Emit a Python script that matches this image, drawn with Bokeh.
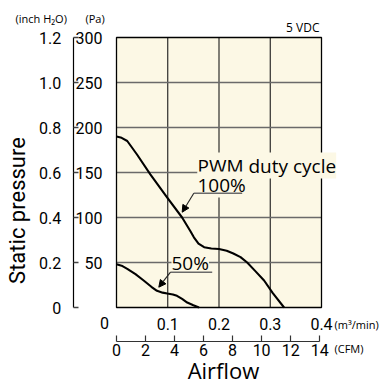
import math
from bokeh.plotting import figure
from bokeh.models import (LinearAxis, Range1d, FixedTicker, Label, Arrow,
                          NormalHead, NumeralTickFormatter)
from bokeh.embed import file_html
from bokeh.resources import INLINE

# ---- data ----
flow_100 = [0.0, 0.010, 0.021, 0.040, 0.066, 0.099, 0.128, 0.144, 0.151, 0.160,
            0.171, 0.185, 0.200, 0.215, 0.228, 0.242, 0.255, 0.270, 0.288, 0.305, 0.327]
pres_100 = [190, 188.5, 185, 170, 148, 122, 100, 85, 78, 71,
            67, 65.5, 65, 63, 60, 56, 50, 41, 30, 16, 0]

flow_50 = [0.0, 0.010, 0.021, 0.037, 0.053, 0.068, 0.079, 0.090, 0.099, 0.110,
           0.118, 0.128, 0.138, 0.150, 0.161]
pres_50 = [48, 46.5, 43, 37, 30, 23, 18.5, 16.5, 15.5, 14.5,
           13, 9.5, 5.5, 2.5, 0]

pa_ticks = [50, 100, 150, 200, 250, 300]
inch_ticks = [0, 0.2, 0.4, 0.6, 0.8, 1.0, 1.2]
m3_ticks = [0.1, 0.2, 0.3, 0.4]
cfm_ticks = [0, 2, 4, 6, 8, 10, 12, 14]
x_grid = [0.1, 0.2, 0.3]
y_grid = [50, 100, 150, 200, 250]

CFM_PER_M3MIN = 35.315
INCH_PER_PA = 1.2 / 300

# ---- layout (pixels on the page) ----
W, H = 389, 385
BOX_L, BOX_R, BOX_T, BOX_B = 116, 321, 37, 307
X_MAX = max(m3_ticks)
Y_MAX = max(pa_ticks)
xpp = X_MAX / (BOX_R - BOX_L)
ypp = Y_MAX / (BOX_B - BOX_T)
x0 = -BOX_L * xpp
x1 = x0 + W * xpp
y1 = BOX_B * ypp
y0 = y1 - H * ypp


def X(px):
    return (px - BOX_L) * xpp


def Y(py):
    return (BOX_B - py) * ypp


CREAM = "#fcf8e5"
TICKF = "Roboto"
SANS = "Open Sans"

p = figure(width=W, height=H, x_range=Range1d(x0, x1), y_range=Range1d(y0, y1),
           output_backend="svg", toolbar_location=None, title=None,
           x_axis_type=None, y_axis_type=None, min_border=0)
p.background_fill_color = "white"
p.border_fill_color = "white"
p.outline_line_color = None

p.extra_y_ranges = {"inch": Range1d(y0 * INCH_PER_PA, y1 * INCH_PER_PA)}
p.extra_x_ranges = {"cfm": Range1d(x0 * CFM_PER_M3MIN, x1 * CFM_PER_M3MIN)}

# plot box and grid
p.quad(left=0, right=X_MAX, bottom=0, top=Y_MAX, fill_color=CREAM, line_color=None)
p.segment(x0=x_grid, y0=[0] * len(x_grid), x1=x_grid, y1=[Y_MAX] * len(x_grid),
          line_color="#1a1a1a", line_width=1.1)
p.segment(x0=[0] * len(y_grid), y0=y_grid, x1=[X_MAX] * len(y_grid), y1=y_grid,
          line_color="#6a6a6a", line_width=1.4)
p.quad(left=0, right=X_MAX, bottom=0, top=Y_MAX, fill_color=None,
       line_color="black", line_width=1.3)


def style_labels(ax, standoff):
    ax.major_label_standoff = standoff
    ax.major_label_text_font = TICKF
    ax.major_label_text_font_size = "16px"
    ax.major_label_text_color = "black"
    ax.minor_tick_line_color = None


# Pa axis
ax_pa = LinearAxis(ticker=FixedTicker(ticks=pa_ticks), fixed_location=0)
ax_pa.axis_line_color = None
ax_pa.major_tick_line_color = None
style_labels(ax_pa, 8)
p.add_layout(ax_pa, "left")

# inch H2O axis
ax_in = LinearAxis(y_range_name="inch", ticker=FixedTicker(ticks=inch_ticks),
                   formatter=NumeralTickFormatter(format="0.0"),
                   fixed_location=X(72.7))
ax_in.bounds = (0, 1.2)
ax_in.major_label_overrides = {0: "0"}
ax_in.axis_line_color = "black"
ax_in.axis_line_width = 1.2
ax_in.major_tick_in = 5
ax_in.major_tick_out = 0
ax_in.major_tick_line_color = "#444444"
ax_in.major_tick_line_width = 1.3
style_labels(ax_in, 12)
p.add_layout(ax_in, "left")

# m3/min axis
ax_m3 = LinearAxis(ticker=FixedTicker(ticks=m3_ticks), fixed_location=0)
ax_m3.axis_line_color = None
ax_m3.major_tick_line_color = None
style_labels(ax_m3, 4)
p.add_layout(ax_m3, "below")

# CFM axis
ax_cfm = LinearAxis(x_range_name="cfm", ticker=FixedTicker(ticks=cfm_ticks),
                    fixed_location=Y(340.7))
ax_cfm.bounds = (0, 14)
ax_cfm.axis_line_color = "#333333"
ax_cfm.axis_line_width = 1.2
ax_cfm.major_tick_in = 6
ax_cfm.major_tick_out = 0
ax_cfm.major_tick_line_color = "#333333"
ax_cfm.major_tick_line_width = 1.2
style_labels(ax_cfm, 3)
p.add_layout(ax_cfm, "below")

# curves
p.line(flow_100, pres_100, line_color="black", line_width=2.1, line_join="round")
p.line(flow_50, pres_50, line_color="black", line_width=2.1, line_join="round")


def lab(px, py, text, size, font=SANS, align="left", bg=None, angle=0):
    kw = {}
    if bg is not None:
        kw["background_fill_color"] = bg
    p.add_layout(Label(x=X(px), y=Y(py), text=text, text_font=font,
                       text_font_size=size, text_align=align,
                       text_baseline="middle", text_color="black",
                       angle=angle, **kw))


def seg(ax, ay, bx, by, color, width, head=False):
    end = NormalHead(size=7, fill_color="black", line_color="black") if head else None
    p.add_layout(Arrow(end=end, x_start=X(ax), y_start=Y(ay), x_end=X(bx), y_end=Y(by),
                       line_color=color, line_width=width))


# annotations inside plot
lab(197, 165, "PWM duty cycle", "19px", bg=CREAM)
lab(197, 184, "100%", "19px", bg=CREAM)
lab(171, 262, "50%", "19px", bg=CREAM)

seg(193.3, 192.7, 241.7, 192.7, "#6a6a6a", 1.4)
seg(170, 271.7, 211.7, 271.7, "#6a6a6a", 1.4)
seg(193.3, 192.7, 181.7, 211.7, "#222222", 1.1, head=True)
seg(170, 271.7, 158.3, 286.7, "#222222", 1.1, head=True)

# outside texts
lab(104, 322.5, "0", "16px", font=TICKF, align="center")
lab(334, 323.5, "(m³/min)", "11px")
lab(334, 347.5, "(CFM)", "11px")
lab(15, 17.5, "(inch H₂O)", "11px")
lab(85, 17.5, "(Pa)", "11px")
lab(319, 27, "5 VDC", "12px", align="right")
lab(17, 210, "Static pressure", "22px", font=TICKF, align="center", angle=math.pi / 2)
lab(223, 369, "Airflow", "22px", align="center")

open("out.html", "w").write(file_html(p, INLINE))
